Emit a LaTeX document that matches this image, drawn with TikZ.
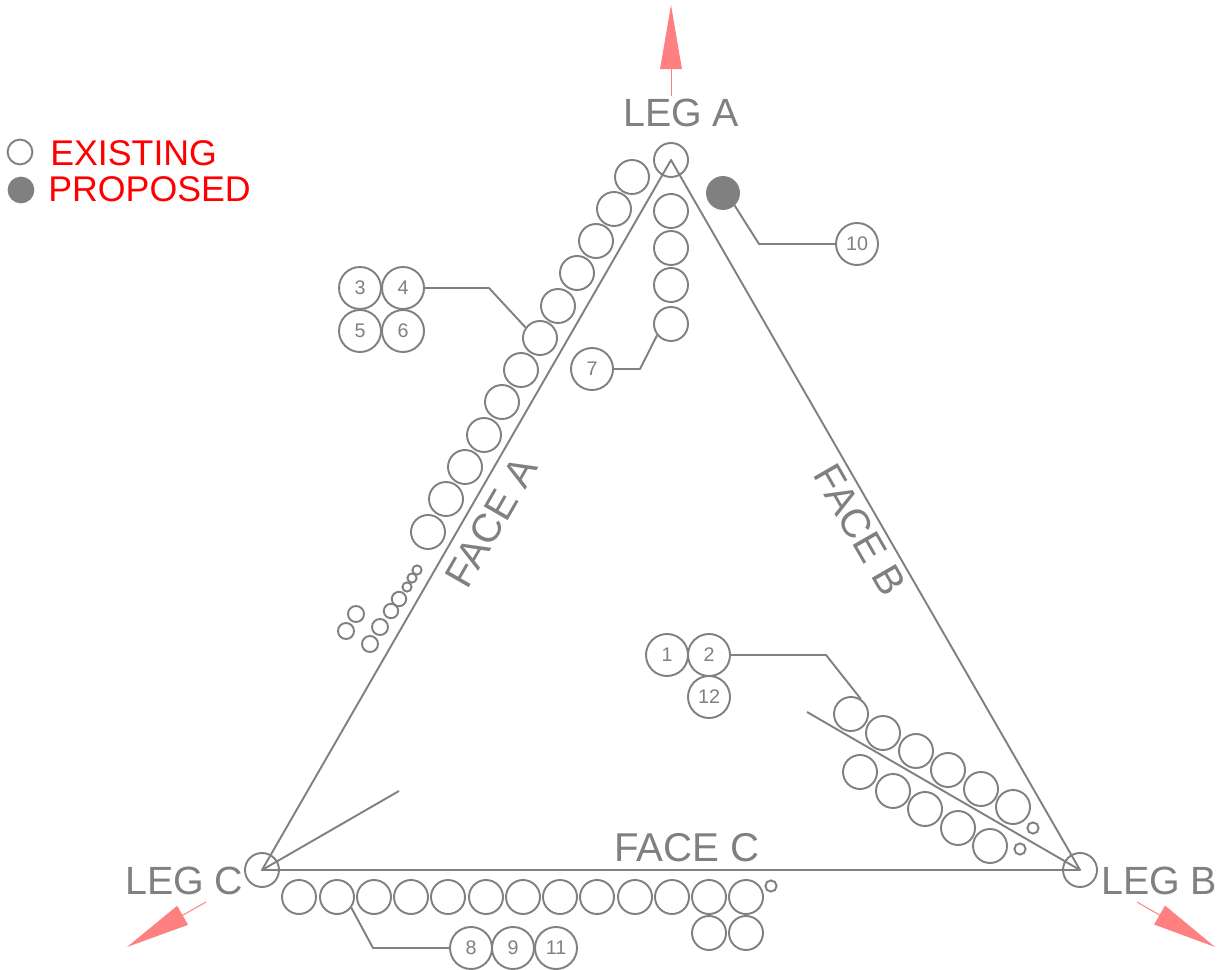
\documentclass[tikz,border=0pt]{standalone}
\usepackage{fontspec}
\setmainfont{Liberation Sans}
\usetikzlibrary{arrows.meta,positioning}
\definecolor{towergray}{RGB}{128,128,128}
\definecolor{legpink}{RGB}{255,128,128}
\tikzset{
	mount/.style={circle,draw=towergray,line width=0.048cm,minimum size=0.85cm,inner sep=0pt},
	mounttiny/.style={mount,minimum size=0.23cm},
	mountsmall/.style={mount,minimum size=0.28cm},
	mountmid/.style={mount,minimum size=0.4cm},
	mounttag/.style={mount,minimum size=1.05cm,text=towergray,font=\fontsize{14}{16}\selectfont},
	legend/.style={circle,draw=towergray,line width=0.048cm,minimum size=0.62cm,inner sep=0pt},
	leader/.style={draw=towergray,line width=0.048cm,line join=round},
	legtext/.style={text=towergray,inner sep=0pt,font=\fontsize{28}{30}\selectfont},
	facetext/.style={legtext,font=\fontsize{28.6}{30}\selectfont},
	legendtext/.style={text=red,inner sep=0pt,anchor=base west,font=\fontsize{25.4}{28}\selectfont},
	legarrow/.style={draw=legpink,line width=0.025cm,-{Triangle[length=1.6cm,width=0.54cm,fill=legpink]}}
}

\begin{document}
\begin{tikzpicture}[x=0.025cm,y=-0.025cm]
	\useasboundingbox (0,0) rectangle (1221,970);

	% legend
	\node[legend] (E) at (20,152) {};
	\node[legend,fill=towergray] (P) at (21,190) {};
	\node[legendtext] (Etext) at (50,166) {EXISTING};
	\node[legendtext] (Ptext) at (48,202) {PROPOSED};

	% legs
	\node[mount] (LA) at (671,160) {};
	\node[mount] (LB) at (1080,870) {};
	\node[mount] (LC) at (262,870) {};
	\draw[leader] (LA.center) -- (LB.center) -- (LC.center) -- cycle;

	\coordinate (FC) at (399,791);
	\coordinate (FB) at (807,712);
	\draw[leader] (LC.center) -- (FC);
	\draw[leader] (FB) -- (LB.center);

	\node[legtext,anchor=base west] (TA) at (623,127) {LEG A};
	\node[legtext,anchor=base west] (TB) at (1101,894) {LEG B};
	\node[legtext,anchor=base west] (TC) at (125,894) {LEG C};
	\node[facetext,rotate=60] (FA) at (491,522) {FACE A};
	\node[facetext,rotate=-60] (FBtext) at (860,530) {FACE B};
	\node[facetext,anchor=base] (FCtext) at (687,861) {FACE C};

	% arrows at the legs
	\coordinate (AA0) at (671,96);
	\coordinate (AA1) at (671,5);
	\coordinate (AB0) at (1137,902);
	\coordinate (AB1) at (1215,947);
	\coordinate (AC0) at (206,902);
	\coordinate (AC1) at (127,947);
	\draw[legarrow] (AA0) -- (AA1);
	\draw[legarrow] (AB0) -- (AB1);
	\draw[legarrow] (AC0) -- (AC1);

	% face A, outer row
	\node[mount] (A1) at (632,177) {};
	\node[mount] (A2) at (614,209) {};
	\node[mount] (A3) at (596,241) {};
	\node[mount] (A4) at (577,273) {};
	\node[mount] (A5) at (558,306) {};
	\node[mount] (A6) at (540,338) {};
	\node[mount] (A7) at (521,370) {};
	\node[mount] (A8) at (502,402) {};
	\node[mount] (A9) at (484,435) {};
	\node[mount] (A10) at (465,467) {};
	\node[mount] (A11) at (446,499) {};
	\node[mount] (A12) at (428,532) {};
	\node[mounttiny] (A13) at (417,570) {};
	\node[mounttiny] (A14) at (412,578) {};
	\node[mounttiny] (A15) at (407,587) {};
	\node[mountmid,minimum size=0.36cm] (A16) at (399,599) {};
	\node[mountmid,minimum size=0.36cm] (A17) at (391,611) {};
	\node[mountmid] (A18) at (380,627) {};
	\node[mountmid] (A19) at (370,644) {};
	\node[mountmid] (A20) at (356,614) {};
	\node[mountmid] (A21) at (346,631) {};

	% face A, inner row
	\node[mount] (I1) at (671,211) {};
	\node[mount] (I2) at (671,248) {};
	\node[mount] (I3) at (671,285) {};
	\node[mount] (I4) at (671,324) {};

	% face B
	\node[mount] (B1) at (851,714) {};
	\node[mount] (B2) at (883,733) {};
	\node[mount] (B3) at (916,751) {};
	\node[mount] (B4) at (948,770) {};
	\node[mount] (B5) at (981,789) {};
	\node[mount] (B6) at (1013,807) {};
	\node[mountsmall] (B7) at (1033,828) {};
	\node[mount] (B8) at (860,772) {};
	\node[mount] (B9) at (893,791) {};
	\node[mount] (B10) at (925,809) {};
	\node[mount] (B11) at (958,828) {};
	\node[mount] (B12) at (990,846) {};
	\node[mountsmall] (B13) at (1020,849) {};

	% face C
	\node[mount] (C1) at (299,897) {};
	\node[mount] (C2) at (337,897) {};
	\node[mount] (C3) at (374,897) {};
	\node[mount] (C4) at (411,897) {};
	\node[mount] (C5) at (448,897) {};
	\node[mount] (C6) at (486,897) {};
	\node[mount] (C7) at (523,897) {};
	\node[mount] (C8) at (560,897) {};
	\node[mount] (C9) at (597,897) {};
	\node[mount] (C10) at (635,897) {};
	\node[mount] (C11) at (672,897) {};
	\node[mount] (C12) at (709,897) {};
	\node[mount] (C13) at (746,897) {};
	\node[mountsmall] (C14) at (771,886) {};
	\node[mount] (C15) at (709,933) {};
	\node[mount] (C16) at (746,933) {};

	% proposed
	\node[mount,minimum size=0.8cm,fill=towergray] (N) at (723,193) {};

	% numbered tags
	\node[mounttag] (T1) at (667,655) {1};
	\node[mounttag] (T2) at (709,655) {2};
	\node[mounttag] (T12) at (709,697) {12};
	\node[mounttag] (T3) at (360,288) {3};
	\node[mounttag] (T4) at (403,288) {4};
	\node[mounttag] (T5) at (360,331) {5};
	\node[mounttag] (T6) at (403,331) {6};
	\node[mounttag] (T7) at (592,369) {7};
	\node[mounttag] (T8) at (471,948) {8};
	\node[mounttag] (T9) at (513,948) {9};
	\node[mounttag] (T11) at (556,948) {11};
	\node[mounttag] (T10) at (857,244) {10};

	% leaders
	\coordinate (K1) at (826,655);
	\coordinate (K4) at (489,288);
	\coordinate (K7) at (640,369);
	\coordinate (K8) at (373,948);
	\coordinate (K10) at (759,244);
	\draw[leader] (T2.east) -- (K1) -- (B1.57);
	\draw[leader] (T4.east) -- (K4) -- (A6.144);
	\draw[leader] (T7.east) -- (K7) -- (I4.219);
	\draw[leader] (T8.west) -- (K8) -- (C2.-37);
	\draw[leader] (T10.west) -- (K10) -- (N.-47);
\end{tikzpicture}
\end{document}
